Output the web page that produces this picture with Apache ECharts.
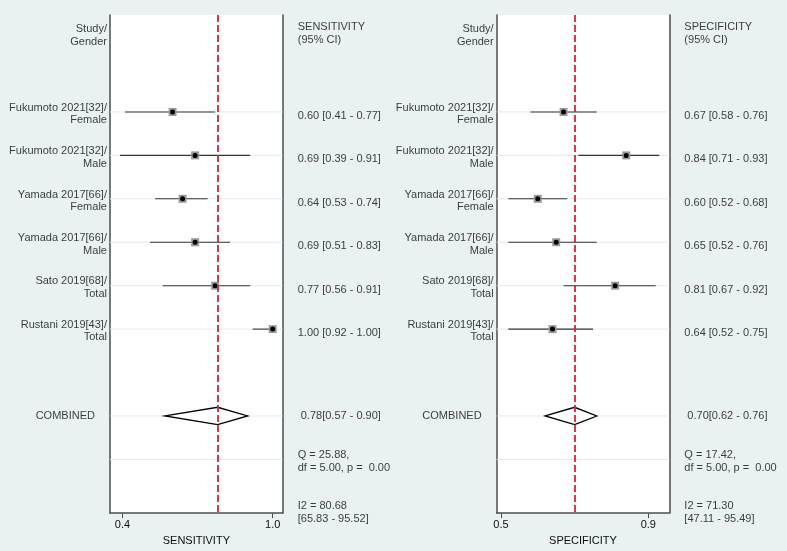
<!DOCTYPE html>
<html>
<head>
<meta charset="utf-8">
<script src="https://cdn.jsdelivr.net/npm/echarts@6/dist/echarts.min.js"></script>
<style>
  html, body { margin: 0; padding: 0; background: #e9f1f3; }
  #chart { width: 787px; height: 551px; }
</style>
</head>
<body>
<div id="chart"></div>
<script>
// study rows (top to bottom)
const studies = [
  'Fukumoto 2021[32]/\nFemale',
  'Fukumoto 2021[32]/\nMale',
  'Yamada 2017[66]/\nFemale',
  'Yamada 2017[66]/\nMale',
  'Sato 2019[68]/\nTotal',
  'Rustani 2019[43]/\nTotal'
];
const sensEst = [0.60, 0.69, 0.64, 0.69, 0.77, 1.00];
const sensLow = [0.41, 0.39, 0.53, 0.51, 0.56, 0.92];
const sensHigh = [0.77, 0.91, 0.74, 0.83, 0.91, 1.00];
const specEst = [0.67, 0.84, 0.60, 0.65, 0.81, 0.64];
const specLow = [0.58, 0.71, 0.52, 0.52, 0.67, 0.52];
const specHigh = [0.76, 0.93, 0.68, 0.76, 0.92, 0.75];
// pooled [estimate, low, high]
const sensCombined = [0.78, 0.57, 0.90];
const specCombined = [0.70, 0.62, 0.76];
const sensHet = { Q: '25.88', df: '5.00', p: '0.00', I2: '80.68', I2ci: '[65.83 - 95.52]' };
const specHet = { Q: '17.42', df: '5.00', p: '0.00', I2: '71.30', I2ci: '[47.11 - 95.49]' };
const sensTicks = [0.4, 1.0];
const specTicks = [0.5, 0.9];

// layout rows
const COMBINED_ROW = 7;
const Q_ROW = 8;
const I2_ROW = 9.15;
const HEADER_ROW = -1.8;
const guideRows = [0, 1, 2, 3, 4, 5, COMBINED_ROW, Q_ROW];

const FONT = "'Liberation Sans', Arial, sans-serif";
const TXT = '#0d0d0d';
const AXIS = '#4d4d4d';

const fmt = v => v.toFixed(2);

function panel(idx, cfg) {
  const { est, low, high, combined, het, xMin, xMax, title } = cfg;
  const ciData = est.map((e, i) => [i, e, low[i], high[i]]);
  const nameData = studies.map((s, i) => ({ value: [xMin, i], label: { formatter: s } }));
  nameData.push({ value: [xMin, COMBINED_ROW], label: { formatter: 'COMBINED', distance: 15, offset: [0, 0] } });
  nameData.push({ value: [xMin, HEADER_ROW], label: { formatter: 'Study/\nGender' } });
  const estData = est.map((e, i) => ({
    value: [xMax, i],
    label: { formatter: fmt(e) + ' [' + fmt(low[i]) + ' - ' + fmt(high[i]) + ']', offset: [0, 4] }
  }));
  estData.push({ value: [xMax, COMBINED_ROW], label: { distance: 18, formatter: fmt(combined[0]) + '[' + fmt(combined[1]) + ' - ' + fmt(combined[2]) + ']' } });
  estData.push({ value: [xMax, HEADER_ROW], label: { formatter: title + '\n(95% CI)' } });
  estData.push({ value: [xMax, Q_ROW], label: { offset: [0, 2], formatter: 'Q = ' + het.Q + ',\ndf = ' + het.df + ', p =  ' + het.p } });
  estData.push({ value: [xMax, I2_ROW], label: { offset: [0, 3], formatter: 'I2 = ' + het.I2 + '\n' + het.I2ci } });

  return [
    {
      type: 'custom', xAxisIndex: idx, yAxisIndex: idx * 2, z: 1, silent: true,
      data: guideRows.map(r => [xMin, r]),
      renderItem: (params, api) => {
        const y = api.coord([xMin, api.value(1)])[1];
        const cs = params.coordSys;
        return { type: 'line', shape: { x1: cs.x, y1: y, x2: cs.x + cs.width, y2: y },
          style: { stroke: '#e1edf1', lineWidth: 1 } };
      },
      markLine: {
        silent: true, symbol: 'none', label: { show: false },
        lineStyle: { color: '#d8223a', type: [7, 3], width: 1.8 },
        data: [{ xAxis: combined[0] }]
      }
    },
    {
      type: 'custom', xAxisIndex: idx, yAxisIndex: idx * 2, z: 3, silent: true,
      data: ciData,
      renderItem: (params, api) => {
        const p = api.coord([api.value(1), api.value(0)]);
        const a = api.coord([api.value(2), api.value(0)]);
        const b = api.coord([api.value(3), api.value(0)]);
        return { type: 'group', children: [
          { type: 'line', shape: { x1: a[0], y1: a[1], x2: b[0], y2: b[1] }, style: { stroke: '#353535', lineWidth: 1.1 } },
          { type: 'rect', shape: { x: p[0] - 4, y: p[1] - 4, width: 8, height: 8 }, style: { fill: '#999' } },
          { type: 'circle', shape: { cx: p[0], cy: p[1], r: 2.5 }, style: { fill: '#000' } }
        ] };
      }
    },
    {
      type: 'custom', xAxisIndex: idx, yAxisIndex: idx * 2, z: 3, silent: true,
      data: [[COMBINED_ROW, combined[0], combined[1], combined[2]]],
      renderItem: (params, api) => {
        const c = api.coord([api.value(1), api.value(0)]);
        const l = api.coord([api.value(2), api.value(0)]);
        const r = api.coord([api.value(3), api.value(0)]);
        const h = 8.7;
        return { type: 'polygon',
          shape: { points: [[l[0], l[1]], [c[0], c[1] - h], [r[0], r[1]], [c[0], c[1] + h]] },
          style: { fill: '#fff', stroke: '#000', lineWidth: 1.3 } };
      }
    },
    {
      type: 'scatter', xAxisIndex: idx, yAxisIndex: idx * 2, z: 4, silent: true,
      symbolSize: 0.1, itemStyle: { color: 'transparent' },
      data: nameData,
      label: { show: true, position: 'left', distance: 3, align: 'right', verticalAlign: 'middle',
        color: TXT, fontSize: 11, fontFamily: FONT, lineHeight: 12.6, offset: [0, 2] }
    },
    {
      type: 'scatter', xAxisIndex: idx, yAxisIndex: idx * 2, z: 4, silent: true,
      symbolSize: 0.1, itemStyle: { color: 'transparent' },
      data: estData,
      label: { show: true, position: 'right', distance: 15, align: 'left', verticalAlign: 'middle',
        color: TXT, fontSize: 11, fontFamily: FONT, lineHeight: 12.6 }
    }
  ];
}

function xAxis(idx, min, max, ticks, name) {
  return {
    type: 'value', gridIndex: idx, min: min, max: max,
    name: name, nameLocation: 'middle', nameGap: 14,
    nameTextStyle: { color: TXT, fontSize: 11, fontFamily: FONT },
    axisLine: { show: true, onZero: false, lineStyle: { color: AXIS, width: 1.5 } },
    axisTick: { show: true, length: 5, customValues: ticks, lineStyle: { color: AXIS } },
    axisLabel: { customValues: ticks, formatter: v => v.toFixed(1), margin: 6,
      color: TXT, fontSize: 11, fontFamily: FONT },
    splitLine: { show: false }
  };
}

function yAxes(idx) {
  const base = {
    type: 'value', gridIndex: idx, inverse: true, min: -2.232, max: 9.236,
    axisTick: { show: false }, axisLabel: { show: false }, splitLine: { show: false },
    axisLine: { show: true, onZero: false, lineStyle: { color: AXIS, width: 1.5 } }
  };
  return [Object.assign({ position: 'left' }, base), Object.assign({ position: 'right' }, base)];
}

const chart = echarts.init(document.getElementById('chart'), null, { renderer: 'canvas' });
chart.setOption({
  backgroundColor: '#e9f1f3',
  animation: false,
  grid: [
    { left: 110, right: 504.3, top: 15, bottom: 36, show: true, backgroundColor: '#fff', borderWidth: 0 },
    { left: 496.7, right: 117.7, top: 15, bottom: 36, show: true, backgroundColor: '#fff', borderWidth: 0 }
  ],
  xAxis: [
    xAxis(0, 0.35, 1.04, sensTicks, 'SENSITIVITY'),
    xAxis(1, 0.4885, 0.957, specTicks, 'SPECIFICITY')
  ],
  yAxis: yAxes(0).concat(yAxes(1)),
  series: panel(0, { est: sensEst, low: sensLow, high: sensHigh, combined: sensCombined, het: sensHet,
      xMin: 0.35, xMax: 1.04, title: 'SENSITIVITY' })
    .concat(panel(1, { est: specEst, low: specLow, high: specHigh, combined: specCombined, het: specHet,
      xMin: 0.4885, xMax: 0.957, title: 'SPECIFICITY' }))
});
</script>
</body>
</html>
